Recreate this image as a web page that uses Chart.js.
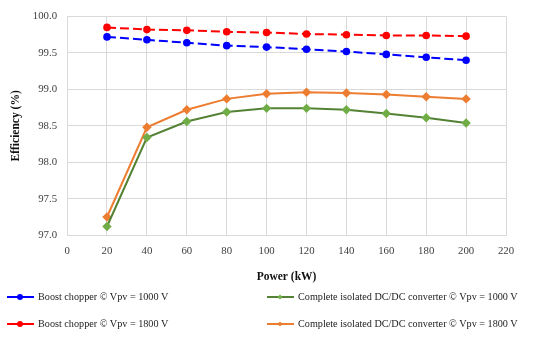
<!DOCTYPE html>
<html>
<head>
<meta charset="utf-8">
<script src="https://cdn.jsdelivr.net/npm/chart.js@4/dist/chart.umd.min.js"></script>
<style>
  body { margin: 0; background: #fff; }
  #wrap { position: relative; width: 550px; height: 339px; }
  #legend { position: absolute; left: 0; top: 291px; width: 550px; font-family: "Liberation Serif", serif; font-size: 10.2px; color: #222; }
  .item { position: absolute; display: flex; align-items: center; white-space: nowrap; }
  .swatch { position: relative; width: 27px; height: 10px; margin-right: 4px; }
  .swatch .ln { position: absolute; left: 0; right: 0; top: 4px; height: 2px; }
  .swatch .mk { position: absolute; left: 10px; top: 2px; width: 6px; height: 6px; }
</style>
</head>
<body>
<div id="wrap">
  <canvas id="chart" width="550" height="339"></canvas>
  <div id="legend"></div>
</div>
<script>
const power = [20, 40, 60, 80, 100, 120, 140, 160, 180, 200];
const boost1000 = [99.72, 99.68, 99.64, 99.60, 99.58, 99.55, 99.52, 99.48, 99.44, 99.40];
const boost1800 = [99.85, 99.82, 99.81, 99.79, 99.78, 99.76, 99.75, 99.74, 99.74, 99.73];
const isolated1000 = [97.12, 98.34, 98.56, 98.69, 98.74, 98.74, 98.72, 98.67, 98.61, 98.54];
const isolated1800 = [97.25, 98.48, 98.72, 98.87, 98.94, 98.96, 98.95, 98.93, 98.90, 98.87];

const serif = '"Liberation Serif", serif';

function points(values) {
    return power.map((p, i) => ({ x: p, y: values[i] }));
}

const series = [
    { label: 'Boost chopper \u00a9 Vpv = 1000 V', data: boost1000, line: '#0000ff', mark: '#0000ff', style: 'circle', dash: [9, 4], col: 0, row: 0 },
    { label: 'Boost chopper \u00a9 Vpv = 1800 V', data: boost1800, line: '#ff0000', mark: '#ff0000', style: 'circle', dash: [9, 4], col: 0, row: 1 },
    { label: 'Complete isolated DC/DC converter \u00a9 Vpv = 1000 V', data: isolated1000, line: '#548235', mark: '#70ad47', style: 'rectRot', dash: [], col: 1, row: 0 },
    { label: 'Complete isolated DC/DC converter \u00a9 Vpv = 1800 V', data: isolated1800, line: '#ed7d31', mark: '#ed7d31', style: 'rectRot', dash: [], col: 1, row: 1 }
];

new Chart(document.getElementById('chart'), {
    type: 'line',
    data: {
        datasets: series.map(s => ({
            label: s.label,
            data: points(s.data),
            borderColor: s.line,
            backgroundColor: s.mark,
            pointBackgroundColor: s.mark,
            pointBorderColor: s.mark,
            pointStyle: s.style,
            pointRadius: s.style === 'circle' ? 2.8 : 3.3,
            borderWidth: 2,
            borderDash: s.dash,
            tension: 0
        }))
    },
    options: {
        responsive: false,
        animation: false,
        layout: { padding: { left: 1, right: 44, top: 1, bottom: 51 } },
        plugins: {
            legend: { display: false },
            tooltip: { enabled: false }
        },
        scales: {
            x: {
                type: 'linear',
                min: 0,
                max: 220,
                ticks: { stepSize: 20, color: '#404040', font: { family: serif, size: 10.8 }, padding: 9 },
                grid: { color: '#d9d9d9', drawTicks: false },
                border: { color: '#d9d9d9' },
                title: { display: true, text: 'Power (kW)', color: '#111', font: { family: serif, size: 11.5, weight: 'bold' }, padding: { top: 4 } }
            },
            y: {
                min: 97,
                max: 100,
                ticks: { stepSize: 0.5, color: '#404040', font: { family: serif, size: 10.8 }, padding: 10,
                    callback: v => v.toFixed(1) },
                grid: { color: '#d9d9d9', drawTicks: false },
                border: { color: '#d9d9d9' },
                title: { display: true, text: 'Efficiency (%)', color: '#111', font: { family: serif, size: 11.5, weight: 'bold' }, padding: { top: 8, bottom: 0 } }
            }
        }
    }
});

// two-column legend under the plot
const legend = document.getElementById('legend');
const colX = [7, 267];
const rowY = [0, 27];
series.forEach(s => {
    const item = document.createElement('div');
    item.className = 'item';
    item.style.left = colX[s.col] + 'px';
    item.style.top = rowY[s.row] + 'px';
    const sw = document.createElement('div');
    sw.className = 'swatch';
    const ln = document.createElement('div');
    ln.className = 'ln';
    ln.style.background = s.line;
    const mk = document.createElement('div');
    mk.className = 'mk';
    mk.style.background = s.mark;
    if (s.style === 'circle') {
        mk.style.borderRadius = '50%';
    } else {
        mk.style.transform = 'rotate(45deg) scale(0.6)';
    }
    sw.appendChild(ln);
    sw.appendChild(mk);
    const txt = document.createElement('span');
    txt.textContent = s.label;
    item.appendChild(sw);
    item.appendChild(txt);
    legend.appendChild(item);
});
</script>
</body>
</html>
